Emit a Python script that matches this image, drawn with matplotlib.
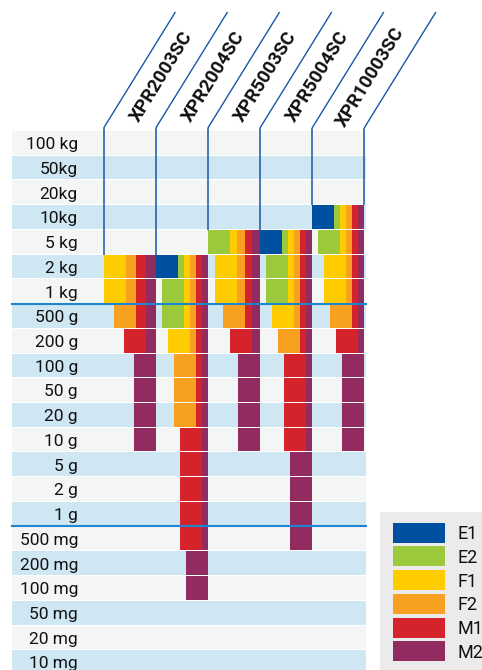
import matplotlib
matplotlib.use('Agg')
import matplotlib.pyplot as plt
from matplotlib.patches import Rectangle

plt.rcParams['font.family'] = ['Roboto', 'DejaVu Sans']

# data
rows = ['100 kg', '50kg', '20kg', '10kg', '5 kg', '2 kg', '1 kg',
        '500 g', '200 g', '100 g', '50 g', '20 g', '10 g', '5 g', '2 g', '1 g',
        '500 mg', '200 mg', '100 mg', '50 mg', '20 mg', '10 mg']
models = ['XPR2003SC', 'XPR2004SC', 'XPR5003SC', 'XPR5004SC', 'XPR10003SC']
classes = ['E1', 'E2', 'F1', 'F2', 'M1', 'M2']
class_colors = ['#0050a2', '#9cc93b', '#ffcc00', '#f8a01f', '#d4232b', '#922b5f']

# best class reached at each row ('' = not covered), down to M2
best_2003 = ['', '', '', '', '', 'F1', 'F1', 'F2', 'M1', 'M2', 'M2', 'M2', 'M2',
             '', '', '', '', '', '', '', '', '']
best_2004 = ['', '', '', '', '', 'E1', 'E2', 'E2', 'F1', 'F2', 'F2', 'F2', 'M1',
             'M1', 'M1', 'M1', 'M1', 'M2', 'M2', '', '', '']
best_5003 = ['', '', '', '', 'E2', 'F1', 'F1', 'F2', 'M1', 'M2', 'M2', 'M2', 'M2',
             '', '', '', '', '', '', '', '', '']
best_5004 = ['', '', '', '', 'E1', 'E2', 'E2', 'F1', 'F2', 'M1', 'M1', 'M1', 'M1',
             'M2', 'M2', 'M2', 'M2', '', '', '', '', '']
best_10003 = ['', '', '', 'E1', 'E2', 'F1', 'F1', 'F2', 'M1', 'M2', 'M2', 'M2', 'M2',
              '', '', '', '', '', '', '', '', '']
best = [best_2003, best_2004, best_5003, best_5004, best_10003]

# layout (pixels)
top = 131
pitch = 24.73
rowh = 23.7
grid_left, grid_right = 12, 366
col_left = 103.7
col_w = 52.1
big_w = 22
head_y = 128
diag_dx, diag_dy = 71.7, 116

fig = plt.figure(figsize=(4.82, 6.70), dpi=100)
ax = fig.add_axes([0, 0, 1, 1])
ax.set_xlim(0, 482)
ax.set_ylim(670, 0)
ax.axis('off')

centers = [top + i * pitch + rowh / 2 for i in range(len(rows))]
bg = ['#f4f5f5' if i % 2 == 0 else '#cfe6f3' for i in range(len(rows))]
ax.barh(centers, grid_right - grid_left, left=grid_left, height=rowh,
        color=bg, zorder=1)
for c, lab in zip(centers, rows):
    ax.text(78, c + 6.3, lab, ha='right', va='baseline', fontsize=12.5,
            color='#111111', zorder=5)

# first filled row per column
first = [min(i for i, b in enumerate(col) if b) for col in best]

for j in range(len(models) + 1):
    xb = col_left + j * col_w
    ax.plot([xb, xb + diag_dx], [head_y, head_y - diag_dy], color='#1a56a8',
            lw=1, zorder=2, solid_capstyle='butt')
    adj = [first[k] for k in (j - 1, j) if 0 <= k < len(models)]
    stop = top + min(adj) * pitch
    ax.plot([xb, xb], [head_y, stop], color='#1a56a8', lw=1.1, zorder=2,
            solid_capstyle='butt')

for j, (name, col) in enumerate(zip(models, best)):
    L = col_left + j * col_w
    b = min(classes.index(x) for x in col if x)
    n = len(classes) - b
    s = (col_w - big_w) / (n - 1)
    cx = L + col_w / 2 + 53 * diag_dx / diag_dy
    ax.text(cx - 1, 77, name, rotation=58.3, rotation_mode='anchor', ha='center',
            va='center', fontsize=13.5, fontweight='bold', color='#111111')
    for i, r in enumerate(col):
        if not r:
            continue
        ri = classes.index(r)
        for ci in range(ri, len(classes)):
            k = ci - b
            if ci == ri:
                x0, x1 = L + k * s, L + big_w + k * s
            else:
                x0, x1 = L + big_w + (k - 1) * s, L + big_w + k * s
            ax.barh(centers[i], x1 - x0, left=x0, height=rowh,
                    color=class_colors[ci], zorder=3)

# separators between kg / g / mg
for i in (7, 16):
    y = top + i * pitch - (pitch - rowh) / 2
    ax.plot([grid_left, grid_right], [y, y], color='#1e86cf', lw=1.5, zorder=4)

# legend
ax.add_patch(Rectangle((380, 512), 110, 170, facecolor='#ebebeb',
                       edgecolor='none', zorder=1))
for i, (cl, colr) in enumerate(zip(classes, class_colors)):
    y0 = 522.7 + i * 23.7
    ax.add_patch(Rectangle((393, y0), 52, 20, facecolor=colr, edgecolor='none',
                           zorder=2))
    ax.text(457.5, y0 + 10 + 6.6, cl, ha='left', va='baseline', fontsize=13,
            color='#111111', zorder=3)

fig.savefig('out.png', dpi=100)
